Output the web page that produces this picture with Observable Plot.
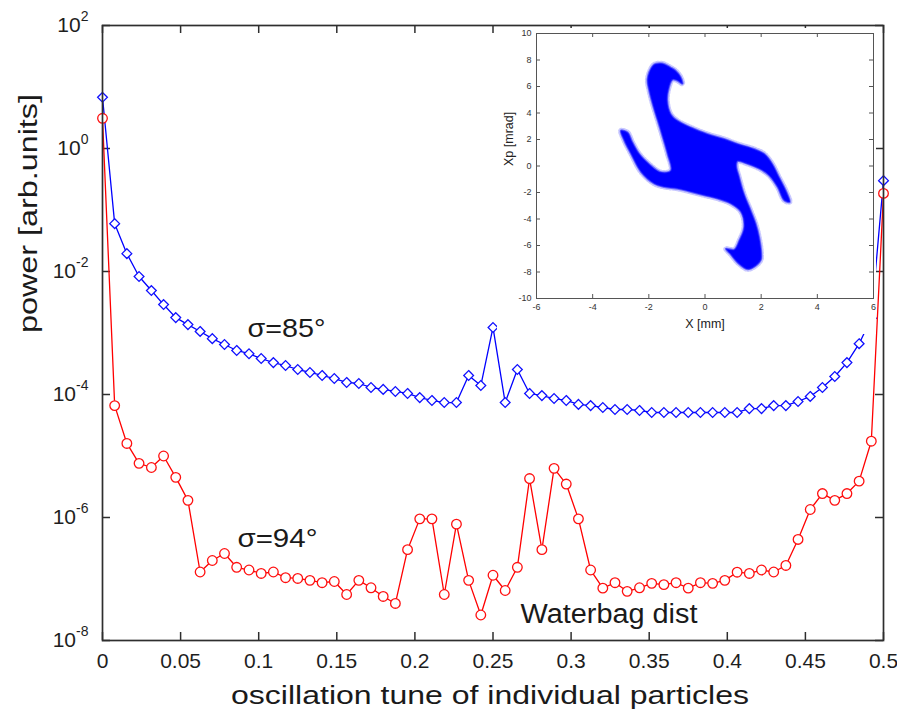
<!DOCTYPE html>
<html><head><meta charset="utf-8">
<script src="https://cdn.jsdelivr.net/npm/d3@7"></script>
<script src="https://cdn.jsdelivr.net/npm/@observablehq/plot@0.6"></script>
<style>
body{margin:0;background:#fff;}
#wrap{position:relative;width:897px;height:712px;overflow:hidden;background:#fff;}
#wrap svg{position:absolute;overflow:visible;}
</style></head><body><div id="wrap"></div>
<script>
// ---------- data ----------
const tune = [0, 0.0078, 0.0156, 0.0234, 0.0313, 0.0391, 0.0469, 0.0547, 0.0625, 0.0703,
  0.0781, 0.0859, 0.0938, 0.1016, 0.1094, 0.1172, 0.125, 0.1328, 0.1406, 0.1484,
  0.1563, 0.1641, 0.1719, 0.1797, 0.1875, 0.1953, 0.2031, 0.2109, 0.2188, 0.2266,
  0.2344, 0.2422, 0.25, 0.2578, 0.2656, 0.2734, 0.2813, 0.2891, 0.2969, 0.3047,
  0.3125, 0.3203, 0.3281, 0.3359, 0.3438, 0.3516, 0.3594, 0.3672, 0.375, 0.3828,
  0.3906, 0.3984, 0.4063, 0.4141, 0.4219, 0.4297, 0.4375, 0.4453, 0.4531, 0.4609,
  0.4688, 0.4766, 0.4844, 0.4922, 0.5];
const power85 = [6.8, 6.0e-2, 1.95e-2, 8.3e-3, 4.9e-3, 2.9e-3, 1.78e-3, 1.37e-3, 1.06e-3, 8.1e-4,
  6.5e-4, 5.2e-4, 4.6e-4, 3.85e-4, 3.3e-4, 2.96e-4, 2.55e-4, 2.28e-4, 2.04e-4, 1.82e-4,
  1.57e-4, 1.51e-4, 1.30e-4, 1.21e-4, 1.12e-4, 1.04e-4, 8.9e-5, 8.0e-5, 7.4e-5, 7.4e-5,
  2.04e-4, 1.40e-4, 1.23e-3, 7.4e-5, 2.55e-4, 1.04e-4, 9.6e-5, 8.6e-5, 8.0e-5, 6.9e-5,
  6.6e-5, 6.15e-5, 5.7e-5, 5.7e-5, 5.5e-5, 5.1e-5, 5.1e-5, 5.1e-5, 5.1e-5, 5.1e-5,
  5.1e-5, 5.1e-5, 5.1e-5, 5.9e-5, 5.9e-5, 6.6e-5, 6.6e-5, 7.7e-5, 9.3e-5, 1.30e-4,
  1.96e-4, 3.3e-4, 6.7e-4, 1.74e-3, 0.30];
const power94 = [3.1, 6.6e-5, 1.6e-5, 7.6e-6, 6.5e-6, 1.0e-5, 4.5e-6, 1.9e-6, 1.3e-7, 2.0e-7,
  2.6e-7, 1.55e-7, 1.4e-7, 1.23e-7, 1.3e-7, 1.05e-7, 1.02e-7, 9.5e-8, 8.7e-8, 9.1e-8,
  5.6e-8, 9.5e-8, 7.2e-8, 5.2e-8, 4.0e-8, 3.0e-7, 9.5e-7, 9.5e-7, 5.6e-8, 7.8e-7,
  9.5e-8, 2.6e-8, 1.15e-7, 6.5e-8, 1.55e-7, 4.3e-6, 3.0e-7, 6.3e-6, 3.5e-6, 9.5e-7,
  1.4e-7, 7.1e-8, 8.7e-8, 6.3e-8, 7.2e-8, 8.5e-8, 8.1e-8, 8.7e-8, 7.1e-8, 8.7e-8,
  8.5e-8, 9.5e-8, 1.29e-7, 1.23e-7, 1.4e-7, 1.3e-7, 1.66e-7, 4.4e-7, 1.35e-6, 2.45e-6,
  1.9e-6, 2.45e-6, 3.9e-6, 1.74e-5, 0.186];
const xTicks = [0, 0.05, 0.1, 0.15, 0.2, 0.25, 0.3, 0.35, 0.4, 0.45, 0.5];
const xTickLabels = ["0", "0.05", "0.1", "0.15", "0.2", "0.25", "0.3", "0.35", "0.4", "0.45", "0.5"];
const yTicks = [1e-8, 1e-6, 1e-4, 1e-2, 1, 1e2];
const yTickLabels = ["10^-8", "10^-6", "10^-4", "10^-2", "10^0", "10^2"];
const xLabel = "oscillation tune of individual particles";
const yLabel = "power [arb.units]";
const label85 = "σ=85°";
const label94 = "σ=94°";
const labelDist = "Waterbag dist";
// inset: outline of the phase-space particle cloud (X [mm], Xp [mrad])
const cloudX = [-2.05, -1.87, -1.75, -1.51, -1.22, -1.04, -0.86, -0.80, -1.00, -1.16,
  -1.28, -1.34, -1.22, -0.98, -0.50, 0.09, 0.68, 1.16, 1.75, 2.11,
  2.40, 2.64, 2.88, 3.02, 2.82, 2.58, 2.28, 1.93, 1.51, 1.16,
  1.12, 1.22, 1.39, 1.63, 1.81, 1.93, 2.01, 1.99, 1.75, 1.51,
  1.16, 0.92, 0.74, 1.04, 1.22, 1.39, 1.28, 0.92, 0.44, -0.03,
  -0.50, -0.98, -1.45, -1.81, -2.28, -2.64, -2.88, -3.00, -2.76, -2.58,
  -2.34, -1.99, -1.57, -1.22, -1.34, -1.51, -1.69, -1.87, -1.99];
const cloudY = [6.56, 7.55, 7.72, 7.74, 7.44, 7.19, 6.70, 6.20, 6.45, 6.50,
  5.93, 4.93, 3.93, 3.43, 2.92, 2.42, 2.05, 1.67, 1.29, 0.92,
  0.16, -0.84, -1.84, -2.72, -2.60, -1.59, -0.72, -0.21, 0.16, 0.35,
  0.00, -0.84, -2.10, -3.35, -4.35, -5.36, -6.61, -7.11, -7.62, -7.80,
  -7.30, -6.70, -6.24, -6.30, -5.61, -4.60, -3.48, -2.85, -2.47, -2.22,
  -1.97, -1.72, -1.59, -1.34, -0.46, 0.92, 1.92, 2.67, 2.55, 1.79,
  0.92, 0.16, -0.46, -0.34, 0.92, 2.17, 3.43, 4.68, 5.68];
const insetXTicks = [-6, -4, -2, 0, 2, 4, 6];
const insetYTicks = [-10, -8, -6, -4, -2, 0, 2, 4, 6, 8, 10];
const insetXLabel = "X [mm]";
const insetYLabel = "Xp [mrad]";

// ---------- build ----------
const rows = tune.map((t, i) => ({t, p85: power85[i], p94: power94[i]}));
const cloud = cloudX.map((x, i) => ({x, y: cloudY[i]}));
const FONT = '"Liberation Sans", Arial, Helvetica, sans-serif';
const W = 897, H = 712, mL = 102, mR = 14, mT = 25, mB = 72;
const iW = W - mL - mR, iH = H - mT - mB, TK = 8;
const axisCol = "#2e2e2e";

const main = Plot.plot({
  width: W, height: H, marginLeft: mL, marginRight: mR, marginTop: mT, marginBottom: mB,
  style: {fontFamily: FONT, background: "white", color: "#1a1a1a"},
  x: {domain: [0, 0.5]},
  y: {type: "log", domain: [1e-8, 1e2]},
  marks: [
    Plot.ruleX(xTicks, {insetTop: iH - TK, stroke: axisCol, strokeWidth: 1.5}),
    Plot.ruleX(xTicks, {insetBottom: iH - TK, stroke: axisCol, strokeWidth: 1.5}),
    Plot.ruleY(yTicks, {insetRight: iW - TK, stroke: axisCol, strokeWidth: 1.5}),
    Plot.ruleY(yTicks, {insetLeft: iW - TK, stroke: axisCol, strokeWidth: 1.5}),
    Plot.axisX({ticks: xTicks, tickSize: 0, tickPadding: 13, fontSize: 21, color: "#1e1e1e",
      tickFormat: d => xTickLabels[xTicks.indexOf(d)], label: null}),
    Plot.axisY({ticks: yTicks, tickSize: 0, tickPadding: 14, fontSize: 21, color: "#1e1e1e",
      tickFormat: d => yTickLabels[yTicks.indexOf(d)], label: null}),
    Plot.line(rows, {x: "t", y: "p85", stroke: "#0000ff", strokeWidth: 1.3}),
    Plot.dot(rows, {x: "t", y: "p85", symbol: "diamond2", r: 4.4, stroke: "#1010ff", fill: "white", strokeWidth: 1.3}),
    Plot.line(rows, {x: "t", y: "p94", stroke: "#ff0000", strokeWidth: 1.3}),
    Plot.dot(rows, {x: "t", y: "p94", symbol: "circle", r: 4.8, stroke: "#ff1010", fill: "white", strokeWidth: 1.3}),
    Plot.frame({stroke: axisCol, strokeWidth: 1.7}),
    Plot.text([label85], {x: 0.0928, y: 8.7e-4, textAnchor: "start", lineAnchor: "bottom", fontSize: 25, fill: "#1a1a1a"}),
    Plot.text([label94], {x: 0.0864, y: 3.37e-7, textAnchor: "start", lineAnchor: "bottom", fontSize: 25, fill: "#1a1a1a"}),
    Plot.text([labelDist], {x: 0.2676, y: 1.96e-8, textAnchor: "start", lineAnchor: "bottom", fontSize: 27, fill: "#1a1a1a"}),
    Plot.text([xLabel], {frameAnchor: "bottom", dx: -3, dy: 63, lineAnchor: "bottom", fontSize: 26, fill: "#1a1a1a"}),
    Plot.text([yLabel], {frameAnchor: "left", rotate: -90, dx: -66, lineAnchor: "bottom", fontSize: 26, fill: "#1a1a1a"})
  ]
});
main.style.left = "0px"; main.style.top = "0px";

const IW = 379, IH = 306, imL = 39, imR = 3, imT = 5, imB = 36;
const iiW = IW - imL - imR, iiH = IH - imT - imB, ITK = 4;
const inset = Plot.plot({
  width: IW, height: IH, marginLeft: imL, marginRight: imR, marginTop: imT, marginBottom: imB,
  style: {fontFamily: FONT, background: "white", color: "#333"},
  x: {domain: [-6, 6]},
  y: {domain: [-10, 10]},
  marks: [
    Plot.line(cloud, {x: "x", y: "y", fill: "none", stroke: "#3a3aff", strokeWidth: 5, strokeOpacity: 0.28, strokeDasharray: "1 2", curve: "catmull-rom-closed"}),
    Plot.line(cloud, {x: "x", y: "y", fill: "#0000ff", stroke: "#2a2aff", strokeWidth: 1.8, strokeOpacity: 0.6, curve: "catmull-rom-closed"}),
    Plot.ruleX(insetXTicks, {insetTop: iiH - ITK, stroke: "#555"}),
    Plot.ruleX(insetXTicks, {insetBottom: iiH - ITK, stroke: "#555"}),
    Plot.ruleY(insetYTicks, {insetRight: iiW - ITK, stroke: "#555"}),
    Plot.ruleY(insetYTicks, {insetLeft: iiW - ITK, stroke: "#555"}),
    Plot.axisX({ticks: insetXTicks, tickSize: 0, tickPadding: 5, fontSize: 9, color: "#333", tickFormat: d => String(d), label: null}),
    Plot.axisY({ticks: insetYTicks, tickSize: 0, tickPadding: 5, fontSize: 9, color: "#333", tickFormat: d => String(d), label: null}),
    Plot.frame({stroke: "#555", strokeWidth: 1}),
    Plot.text([insetXLabel], {frameAnchor: "bottom", dy: 29, lineAnchor: "bottom", fontSize: 12.5, fill: "#222"}),
    Plot.text([insetYLabel], {frameAnchor: "left", rotate: -90, dx: -24, lineAnchor: "bottom", fontSize: 12.5, fill: "#222"})
  ]
});
inset.style.left = "497px"; inset.style.top = "28px";

const wrap = document.getElementById("wrap");
wrap.appendChild(main);
wrap.appendChild(inset);

// superscript exponents on the log-axis labels
const NS = "http://www.w3.org/2000/svg";
main.querySelectorAll("text").forEach(t => {
  const m = t.textContent.match(/^10\^(-?\d+)$/);
  if (m) {
    t.textContent = "10";
    const s = document.createElementNS(NS, "tspan");
    s.setAttribute("dy", "-11");
    s.setAttribute("font-size", "14");
    s.textContent = m[1];
    t.appendChild(s);
  }
});
// match the wide lettering of the original figure
const widths = new Map([[xLabel, 518], [yLabel, 239], [label85, 78], [label94, 80], [labelDist, 177]]);
main.querySelectorAll("text").forEach(t => {
  const w = widths.get(t.textContent);
  if (w) { t.setAttribute("textLength", w); t.setAttribute("lengthAdjust", "spacingAndGlyphs"); }
});
</script>
</body></html>
